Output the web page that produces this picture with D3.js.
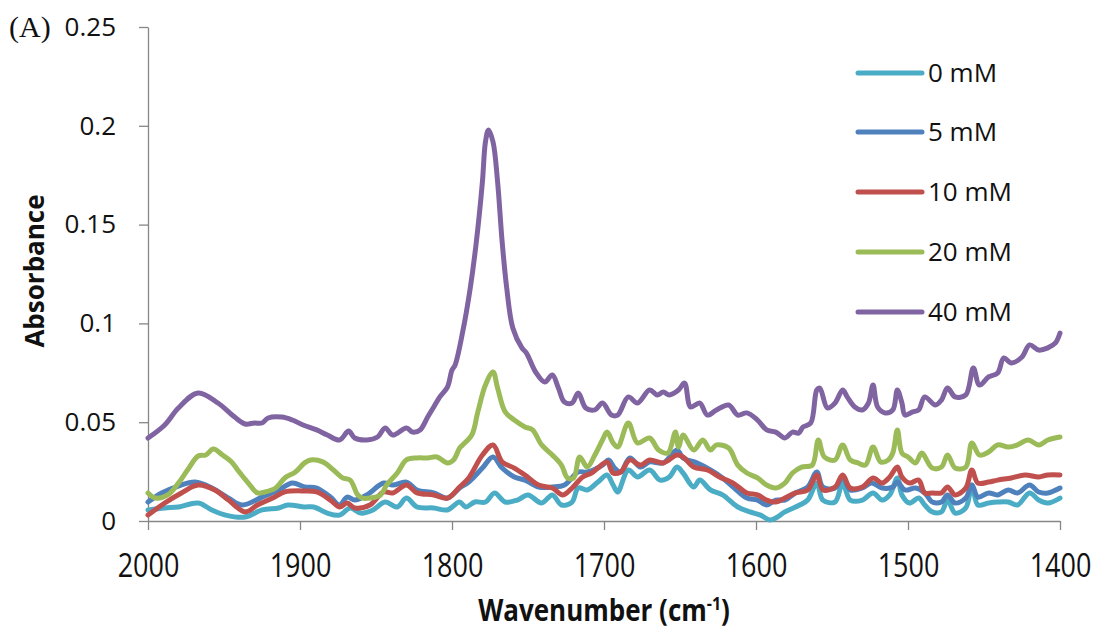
<!DOCTYPE html>
<html>
<head>
<meta charset="utf-8">
<script src="https://cdn.jsdelivr.net/npm/d3@7"></script>
<style>
  html, body { margin: 0; padding: 0; background: #fff; }
  svg { display: block; }
</style>
</head>
<body>
<svg id="chart" width="1098" height="632"></svg>
<script>
// ---- data (wavenumber cm-1, absorbance) ----
const seriesNames = ["0 mM", "5 mM", "10 mM", "20 mM", "40 mM"];
const seriesColors = ["#4bacc6", "#4f81bd", "#c0504d", "#9bbb59", "#8064a2"];
const xTicks = [2000, 1900, 1800, 1700, 1600, 1500, 1400];
const yTicks = [0, 0.05, 0.1, 0.15, 0.2, 0.25];

const conc0 = [[2000,0.0056],[1989,0.0066],[1980,0.0071],[1967,0.0091],[1958,0.0056],[1949,0.0030],[1936,0.0020],[1925,0.0056],[1914,0.0066],[1908,0.0081],[1897,0.0071],[1891,0.0071],[1882,0.0040],[1874,0.0030],[1867,0.0066],[1860,0.0040],[1852,0.0056],[1844,0.0096],[1836,0.0071],[1830,0.0116],[1823,0.0071],[1812,0.0066],[1803,0.0056],[1795,0.0096],[1791,0.0071],[1785,0.0096],[1778,0.0096],[1772,0.0142],[1765,0.0096],[1757,0.0106],[1750,0.0132],[1741,0.0091],[1734,0.0132],[1728,0.0081],[1721,0.0096],[1717,0.0167],[1711,0.0157],[1704,0.0197],[1698,0.0233],[1694,0.0182],[1691,0.0147],[1684,0.0258],[1678,0.0223],[1670,0.0258],[1663,0.0207],[1657,0.0223],[1652,0.0273],[1648,0.0243],[1641,0.0172],[1637,0.0207],[1630,0.0157],[1622,0.0132],[1612,0.0071],[1604,0.0046],[1597,0.0030],[1591,0.0005],[1587,0.0015],[1581,0.0046],[1574,0.0071],[1566,0.0106],[1560,0.0192],[1556,0.0106],[1548,0.0096],[1543,0.0192],[1538,0.0106],[1530,0.0106],[1523,0.0142],[1517,0.0106],[1512,0.0132],[1507,0.0218],[1504,0.0132],[1499,0.0091],[1493,0.0116],[1489,0.0081],[1484,0.0046],[1478,0.0046],[1474,0.0106],[1469,0.0040],[1462,0.0066],[1458,0.0182],[1454,0.0081],[1447,0.0091],[1441,0.0096],[1434,0.0096],[1428,0.0081],[1420,0.0142],[1414,0.0106],[1408,0.0091],[1400,0.0116]];

const conc5 = [[2000,0.0096],[1991,0.0142],[1980,0.0177],[1969,0.0197],[1958,0.0167],[1947,0.0116],[1938,0.0081],[1925,0.0121],[1914,0.0157],[1905,0.0192],[1897,0.0172],[1889,0.0167],[1880,0.0121],[1874,0.0081],[1869,0.0121],[1864,0.0106],[1856,0.0132],[1845,0.0192],[1839,0.0182],[1830,0.0197],[1823,0.0157],[1812,0.0142],[1803,0.0116],[1795,0.0167],[1789,0.0197],[1780,0.0268],[1773,0.0324],[1767,0.0268],[1759,0.0223],[1752,0.0207],[1743,0.0172],[1734,0.0172],[1726,0.0182],[1717,0.0248],[1711,0.0248],[1701,0.0283],[1697,0.0309],[1693,0.0268],[1689,0.0248],[1683,0.0319],[1676,0.0273],[1670,0.0299],[1661,0.0294],[1652,0.0359],[1648,0.0319],[1639,0.0294],[1630,0.0258],[1622,0.0218],[1615,0.0172],[1606,0.0116],[1599,0.0106],[1593,0.0081],[1587,0.0106],[1581,0.0106],[1574,0.0142],[1566,0.0172],[1560,0.0248],[1556,0.0172],[1548,0.0167],[1543,0.0223],[1538,0.0157],[1530,0.0167],[1524,0.0192],[1517,0.0167],[1510,0.0172],[1507,0.0197],[1502,0.0157],[1495,0.0167],[1489,0.0142],[1484,0.0096],[1478,0.0096],[1474,0.0132],[1469,0.0091],[1462,0.0116],[1458,0.0182],[1454,0.0121],[1447,0.0142],[1441,0.0132],[1434,0.0157],[1428,0.0142],[1420,0.0182],[1414,0.0147],[1408,0.0142],[1400,0.0167]];

const conc10 = [[2000,0.0030],[1989,0.0091],[1978,0.0142],[1967,0.0182],[1956,0.0157],[1947,0.0106],[1936,0.0046],[1928,0.0081],[1918,0.0116],[1910,0.0147],[1897,0.0152],[1889,0.0147],[1880,0.0106],[1874,0.0071],[1869,0.0091],[1864,0.0066],[1854,0.0081],[1845,0.0147],[1839,0.0142],[1830,0.0182],[1823,0.0142],[1812,0.0132],[1803,0.0116],[1795,0.0172],[1789,0.0218],[1780,0.0334],[1773,0.0385],[1767,0.0299],[1759,0.0268],[1752,0.0233],[1743,0.0182],[1734,0.0167],[1727,0.0132],[1721,0.0167],[1714,0.0223],[1708,0.0243],[1704,0.0268],[1698,0.0299],[1694,0.0243],[1689,0.0248],[1683,0.0309],[1676,0.0283],[1670,0.0309],[1661,0.0294],[1652,0.0334],[1648,0.0324],[1641,0.0273],[1632,0.0258],[1624,0.0223],[1615,0.0192],[1606,0.0142],[1599,0.0132],[1593,0.0106],[1587,0.0096],[1581,0.0116],[1574,0.0142],[1566,0.0157],[1560,0.0233],[1556,0.0157],[1548,0.0172],[1543,0.0233],[1538,0.0167],[1530,0.0172],[1523,0.0218],[1517,0.0192],[1512,0.0223],[1507,0.0273],[1504,0.0223],[1499,0.0192],[1493,0.0207],[1489,0.0142],[1484,0.0142],[1478,0.0142],[1474,0.0172],[1469,0.0132],[1462,0.0167],[1458,0.0258],[1454,0.0192],[1447,0.0197],[1441,0.0207],[1432,0.0218],[1423,0.0233],[1414,0.0223],[1408,0.0233],[1400,0.0233]];

const conc20 = [[2000,0.0142],[1995,0.0116],[1987,0.0132],[1980,0.0192],[1974,0.0258],[1967,0.0329],[1962,0.0334],[1957,0.0364],[1951,0.0334],[1945,0.0299],[1941,0.0258],[1934,0.0192],[1928,0.0142],[1923,0.0147],[1916,0.0167],[1910,0.0218],[1903,0.0248],[1897,0.0294],[1893,0.0309],[1885,0.0299],[1878,0.0258],[1872,0.0218],[1867,0.0207],[1862,0.0132],[1859,0.0116],[1854,0.0116],[1847,0.0132],[1843,0.0182],[1836,0.0243],[1830,0.0309],[1823,0.0319],[1816,0.0319],[1810,0.0324],[1803,0.0294],[1799,0.0309],[1795,0.0369],[1793,0.0385],[1787,0.0435],[1783,0.0552],[1778,0.0688],[1773,0.0754],[1770,0.0673],[1765,0.0552],[1759,0.0511],[1752,0.0476],[1747,0.0461],[1741,0.0385],[1734,0.0334],[1728,0.0283],[1724,0.0218],[1720,0.0218],[1716,0.0324],[1711,0.0273],[1706,0.0334],[1701,0.0410],[1698,0.0450],[1694,0.0395],[1691,0.0374],[1684,0.0496],[1678,0.0395],[1670,0.0420],[1664,0.0359],[1658,0.0344],[1653,0.0450],[1651,0.0374],[1648,0.0435],[1641,0.0359],[1635,0.0410],[1630,0.0359],[1626,0.0385],[1618,0.0369],[1612,0.0283],[1606,0.0243],[1599,0.0218],[1593,0.0182],[1587,0.0167],[1581,0.0192],[1576,0.0243],[1570,0.0273],[1563,0.0283],[1559,0.0410],[1555,0.0324],[1548,0.0309],[1543,0.0385],[1538,0.0309],[1533,0.0294],[1528,0.0283],[1523,0.0374],[1518,0.0299],[1513,0.0309],[1510,0.0344],[1507,0.0461],[1504,0.0344],[1500,0.0324],[1495,0.0294],[1491,0.0344],[1484,0.0268],[1478,0.0273],[1474,0.0334],[1469,0.0268],[1462,0.0273],[1458,0.0395],[1453,0.0334],[1447,0.0349],[1441,0.0385],[1434,0.0374],[1428,0.0385],[1421,0.0410],[1414,0.0385],[1408,0.0410],[1400,0.0425]];

const conc40 = [[2000,0.0420],[1989,0.0486],[1980,0.0572],[1967,0.0648],[1954,0.0597],[1943,0.0526],[1936,0.0491],[1930,0.0496],[1925,0.0496],[1921,0.0521],[1912,0.0526],[1905,0.0511],[1898,0.0486],[1889,0.0461],[1882,0.0435],[1874,0.0410],[1868,0.0455],[1864,0.0420],[1856,0.0410],[1849,0.0425],[1844,0.0471],[1839,0.0435],[1830,0.0471],[1826,0.0450],[1821,0.0461],[1816,0.0526],[1812,0.0577],[1808,0.0628],[1803,0.0678],[1800,0.0764],[1798,0.0789],[1793,0.0956],[1788,0.1179],[1784,0.1412],[1780,0.1716],[1778,0.1918],[1776,0.1979],[1773,0.1918],[1770,0.1716],[1767,0.1412],[1764,0.1179],[1760,0.0977],[1754,0.0876],[1751,0.0850],[1745,0.0754],[1739,0.0703],[1734,0.0739],[1730,0.0673],[1726,0.0602],[1721,0.0597],[1717,0.0648],[1712,0.0572],[1706,0.0562],[1701,0.0597],[1695,0.0536],[1691,0.0536],[1684,0.0628],[1678,0.0597],[1670,0.0663],[1665,0.0638],[1661,0.0653],[1657,0.0638],[1651,0.0663],[1647,0.0698],[1643,0.0577],[1637,0.0597],[1632,0.0536],[1626,0.0562],[1618,0.0587],[1612,0.0536],[1606,0.0547],[1599,0.0511],[1593,0.0461],[1587,0.0450],[1581,0.0420],[1576,0.0450],[1572,0.0445],[1569,0.0476],[1564,0.0496],[1560,0.0663],[1558,0.0673],[1553,0.0572],[1548,0.0597],[1543,0.0663],[1540,0.0628],[1535,0.0577],[1530,0.0562],[1526,0.0597],[1523,0.0688],[1520,0.0577],[1515,0.0547],[1510,0.0562],[1507,0.0663],[1504,0.0597],[1502,0.0536],[1497,0.0552],[1493,0.0562],[1489,0.0628],[1482,0.0587],[1478,0.0612],[1474,0.0673],[1469,0.0628],[1462,0.0638],[1457,0.0774],[1453,0.0688],[1447,0.0729],[1441,0.0749],[1437,0.0825],[1432,0.0800],[1425,0.0830],[1420,0.0891],[1414,0.0865],[1408,0.0876],[1403,0.0901],[1400,0.0951]];

const seriesData = [conc0, conc5, conc10, conc20, conc40];

// ---- drawing ----
const svg = d3.select("#chart");
const axisColor = "#868686";

const x = d3.scaleLinear().domain([2000, 1400]).range([148, 1060]);
const y = d3.scaleLinear().domain([0, 0.25]).range([521, 27]);

// y axis
const yAxis = svg.append("g")
  .attr("transform", `translate(${x(2000)},0)`)
  .call(d3.axisLeft(y).tickValues(yTicks).tickSize(9).tickSizeOuter(0).tickPadding(23)
    .tickFormat(d => d === 0 ? "0" : String(+d.toFixed(2))));
yAxis.select(".domain").attr("stroke", axisColor).attr("stroke-width", 1.3);
yAxis.selectAll(".tick line").attr("stroke", axisColor).attr("stroke-width", 1.3);
yAxis.selectAll(".tick text")
  .attr("fill", "#111").style("font-family", "'Open Sans', sans-serif").style("font-size", "26px");

// x axis
const xAxis = svg.append("g")
  .attr("transform", `translate(0,${y(0)})`)
  .call(d3.axisBottom(x).tickValues(xTicks).tickSize(9).tickSizeOuter(0).tickPadding(14)
    .tickFormat(d3.format("d")));
xAxis.select(".domain").attr("stroke", axisColor).attr("stroke-width", 1.3);
xAxis.selectAll(".tick line").attr("stroke", axisColor).attr("stroke-width", 1.3);
xAxis.selectAll(".tick text")
  .attr("fill", "#111")
  .attr("y", 27)
  .attr("transform", "scale(1,1.22)")
  .style("font-family", "'Open Sans', sans-serif").style("font-size", "27px");

// lines
const line = d3.line()
  .x(d => x(d[0]))
  .y(d => y(d[1]))
  .curve(d3.curveCatmullRom.alpha(0.5));

svg.append("g").selectAll("path")
  .data(seriesData)
  .join("path")
  .attr("d", line)
  .attr("fill", "none")
  .attr("stroke", (d, i) => seriesColors[i])
  .attr("stroke-width", 5)
  .attr("stroke-linejoin", "round")
  .attr("stroke-linecap", "round");

// legend
const legendY = [73, 132, 192, 252, 312];
const legend = svg.append("g");
seriesNames.forEach((name, i) => {
  legend.append("line")
    .attr("x1", 858).attr("x2", 922)
    .attr("y1", legendY[i]).attr("y2", legendY[i])
    .attr("stroke", seriesColors[i]).attr("stroke-width", 5).attr("stroke-linecap", "round");
  legend.append("text")
    .attr("x", 928).attr("y", legendY[i])
    .attr("dy", "0.36em")
    .attr("fill", "#111")
    .style("font-family", "'Open Sans', sans-serif").style("font-size", "26px")
    .text(name);
});

// axis titles
svg.append("text")
  .attr("transform", "translate(44,271) rotate(-90)")
  .attr("text-anchor", "middle")
  .attr("fill", "#111")
  .style("font-family", "'Open Sans', sans-serif").style("font-size", "26px").style("font-weight", "bold")
  .text("Absorbance");

const xt = svg.append("text")
  .attr("transform", "translate(604,621) scale(1,1.15)")
  .attr("text-anchor", "middle")
  .attr("fill", "#111")
  .style("font-family", "'Open Sans', sans-serif").style("font-size", "26px").style("font-weight", "bold");
xt.append("tspan").text("Wavenumber (cm");
xt.append("tspan").attr("dy", -10).style("font-size", "16px").text("-1");
xt.append("tspan").attr("dy", 10).text(")");

// panel label
svg.append("text")
  .attr("x", 9).attr("y", 37)
  .attr("fill", "#111")
  .style("font-family", "'Liberation Serif', 'Times New Roman', serif").style("font-size", "30px")
  .text("(A)");
</script>
</body>
</html>
